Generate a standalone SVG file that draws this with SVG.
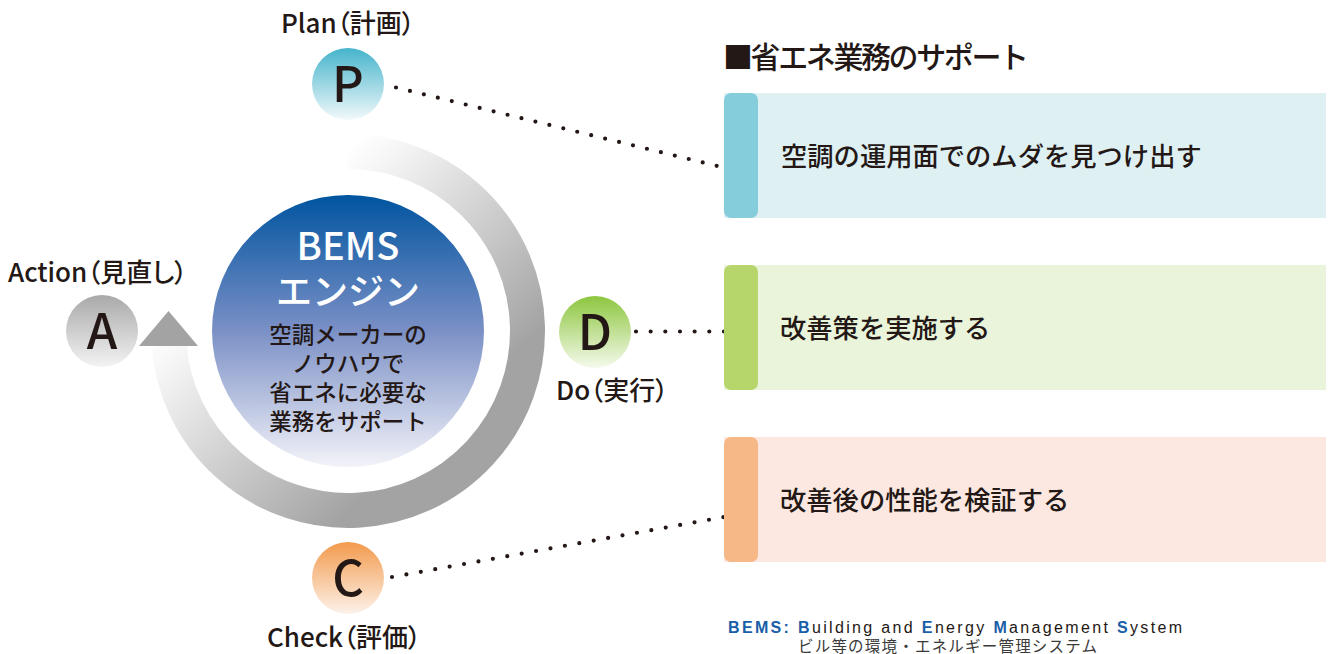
<svg xmlns="http://www.w3.org/2000/svg" width="1330" height="654" viewBox="0 0 1330 654">
<style>
text{font-family:"Noto Sans CJK JP","Noto Sans",sans-serif;fill:#231815;font-weight:500}
.lbl{font-size:26px;font-feature-settings:"palt"}
.ltr{font-size:49px;text-anchor:middle}
.box{font-size:26.3px}
.mid{font-size:22.5px;text-anchor:middle}
.dots{stroke:#231815;stroke-width:4.2;stroke-linecap:round;fill:none}
.fn{font-family:"Liberation Sans",Arial,sans-serif;font-size:16px;fill:#231815;font-weight:normal}
.blue{fill:#1a5ea8;font-weight:bold}
</style>
<defs>
<linearGradient id="gCore" x1="0" y1="0" x2="0" y2="1">
<stop offset="0" stop-color="#0054a0"/>
<stop offset="0.5" stop-color="#7b90c6"/>
<stop offset="1" stop-color="#f3f3f9"/>
</linearGradient>
<linearGradient id="gRing" gradientUnits="userSpaceOnUse" x1="348" y1="148" x2="530" y2="340">
<stop offset="0" stop-color="#ffffff"/>
<stop offset="0.15" stop-color="#f4f4f4"/>
<stop offset="1" stop-color="#a3a3a3"/>
</linearGradient>
<linearGradient id="gP" x1="0" y1="0" x2="0" y2="1">
<stop offset="0" stop-color="#45b4cb"/>
<stop offset="1" stop-color="#f2f9fb"/>
</linearGradient>
<linearGradient id="gD" x1="0" y1="0" x2="0" y2="1">
<stop offset="0" stop-color="#8dc63f"/>
<stop offset="1" stop-color="#f5faec"/>
</linearGradient>
<linearGradient id="gC" x1="0" y1="0" x2="0" y2="1">
<stop offset="0" stop-color="#f29a4c"/>
<stop offset="1" stop-color="#fdf2ea"/>
</linearGradient>
<linearGradient id="gA" x1="0" y1="0" x2="0" y2="1">
<stop offset="0" stop-color="#a9a9a9"/>
<stop offset="1" stop-color="#f3f3f3"/>
</linearGradient>
</defs>

<g id="cycle-arrow">
<path d="M348,151.5 A179.5,179.5 0 1 1 169.05,345.1" fill="none" stroke="url(#gRing)" stroke-width="35"/>
<polygon points="139,346 198,346 168.5,311" fill="#a3a3a3"/>
</g>

<g id="bems-engine">
<circle cx="348" cy="331" r="136" fill="url(#gCore)"/>
<text x="348" y="260" text-anchor="middle" style="font-size:38px;fill:#ffffff">BEMS</text>
<text x="348" y="305" text-anchor="middle" style="font-size:36px;fill:#ffffff">エンジン</text>
<text class="mid" x="348" y="343">空調メーカーの</text>
<text class="mid" x="348" y="372">ノウハウで</text>
<text class="mid" x="348" y="401">省エネに必要な</text>
<text class="mid" x="348" y="430">業務をサポート</text>
</g>

<g id="connectors">
<line class="dots" x1="396" y1="87.5" x2="738" y2="171" stroke-dasharray="0 14.35"/>
<line class="dots" x1="636" y1="331.5" x2="724" y2="331.5" stroke-dasharray="0 14.66"/>
<line class="dots" x1="392" y1="577" x2="738" y2="514.5" stroke-dasharray="0 14.64"/>
</g>

<g id="node-plan">
<circle cx="348" cy="84" r="36" fill="url(#gP)"/>
<text class="ltr" x="348" y="102">P</text>
<text class="lbl" x="281" y="33">Plan（計画）</text>
</g>
<g id="node-action">
<circle cx="102" cy="331" r="36" fill="url(#gA)"/>
<text class="ltr" x="102" y="349">A</text>
<text class="lbl" x="8" y="282">Action（見直し）</text>
</g>
<g id="node-do">
<circle cx="595" cy="332" r="36" fill="url(#gD)"/>
<text class="ltr" x="595" y="350">D</text>
<text class="lbl" x="556" y="400">Do（実行）</text>
</g>
<g id="node-check">
<circle cx="348" cy="578" r="36" fill="url(#gC)"/>
<text class="ltr" x="348" y="596">C</text>
<text class="lbl" x="267" y="647">Check（評価）</text>
</g>

<g id="heading">
<text x="723" y="68" style="font-size:30px;letter-spacing:-2.4px">■省エネ業務のサポート</text>
</g>

<g id="box-1">
<rect x="724" y="93" width="602" height="125" fill="#dff0f3"/>
<rect x="724" y="93" width="34" height="125" rx="7" fill="#86cddc"/>
<text class="box" x="781" y="166">空調の運用面でのムダを見つけ出す</text>
</g>
<g id="box-2">
<rect x="724" y="265" width="602" height="125" fill="#eaf4da"/>
<rect x="724" y="265" width="34" height="125" rx="7" fill="#b6d66b"/>
<text class="box" x="780" y="338">改善策を実施する</text>
</g>
<g id="box-3">
<rect x="724" y="437" width="602" height="125" fill="#fce8e1"/>
<rect x="724" y="437" width="34" height="125" rx="7" fill="#f5b886"/>
<text class="box" x="780" y="510">改善後の性能を検証する</text>
</g>

<g id="footnote">
<text class="fn" x="728" y="633" textLength="454" lengthAdjust="spacing"><tspan class="blue">BEMS: B</tspan>uilding and <tspan class="blue">E</tspan>nergy <tspan class="blue">M</tspan>anagement <tspan class="blue">S</tspan>ystem</text>
<text x="798" y="652" textLength="299" lengthAdjust="spacing" style="font-size:15.5px;fill:#3a3a3a;font-weight:normal">ビル等の環境・エネルギー管理システム</text>
</g>
</svg>
